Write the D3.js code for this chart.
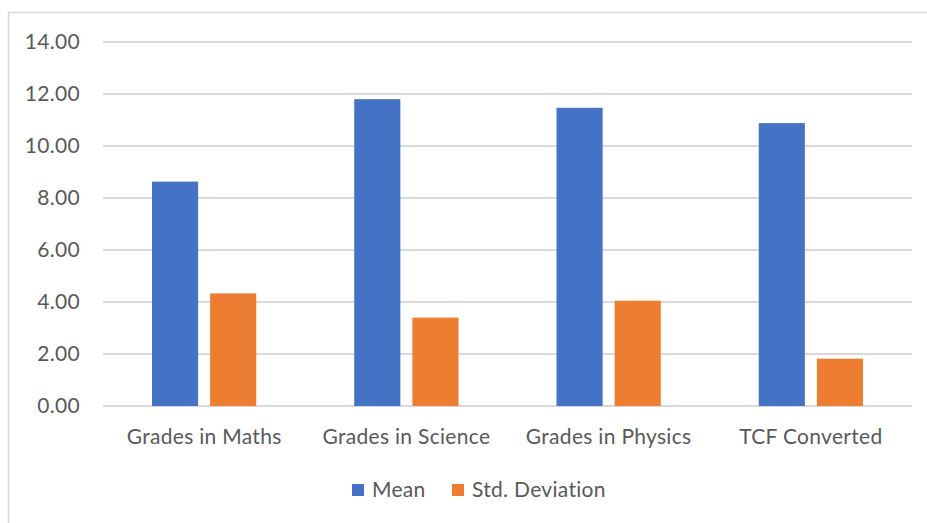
<!DOCTYPE html>
<html><head><meta charset="utf-8">
<script src="https://cdn.jsdelivr.net/npm/d3@7"></script>
<style>body{margin:0;background:#fff;} svg{display:block;}</style>
</head><body>
<svg id="c" width="927" height="523"></svg>
<script>
const categories = ["Grades in Maths","Grades in Science","Grades in Physics","TCF Converted"];
const seriesNames = ["Mean","Std. Deviation"];
const meanValues = [8.63, 11.80, 11.47, 10.88];
const stdValues = [4.33, 3.40, 4.05, 1.82];
const yTicks = [0,2,4,6,8,10,12,14];
const colors = ["#4472C4","#ED7D31"];

(function(){
const svg = d3.select("#c");
const font = "Lato, 'Open Sans', sans-serif";
const fs = 21;
const ls = "0.3px";
const txt = "#595959";
const grid = "#d9d9d9";

// chart border
svg.append("path").attr("d","M8.5,530 L8.5,12.5 L940,12.5").attr("fill","none").attr("stroke",grid).attr("stroke-width",1.5);

const pLeft = 103, pRight = 912, pTop = 42, pBottom = 406;
const y = d3.scaleLinear().domain([0,14]).range([pBottom, pTop]);
const x0 = d3.scaleBand().domain(categories).range([pLeft, pRight]).padding(0);
const inner = 49;
const x1 = d3.scaleBand().domain(seriesNames).range([inner, x0.bandwidth()-inner]).paddingInner(12/58).paddingOuter(0);

// gridlines
svg.append("g").selectAll("line").data(yTicks).join("line")
  .attr("x1", pLeft).attr("x2", pRight)
  .attr("y1", d=>y(d)).attr("y2", d=>y(d))
  .attr("stroke", grid).attr("stroke-width", 2);

// y axis labels
const yAxis = d3.axisLeft(y).tickValues(yTicks).tickFormat(d3.format(".2f")).tickSize(0).tickPadding(0);
const yg = svg.append("g").attr("transform","translate(80,0)").call(yAxis);
yg.select(".domain").remove();
yg.selectAll("text").attr("font-family",font).attr("font-size",fs).attr("letter-spacing",ls).attr("fill",txt);

// bars
const data = categories.map((c,i)=>({cat:c, vals:[meanValues[i], stdValues[i]]}));
const groups = svg.append("g").selectAll("g").data(data).join("g")
  .attr("transform", d=>`translate(${x0(d.cat)},0)`);
groups.selectAll("rect").data(d=>d.vals.map((v,j)=>({s:seriesNames[j], v, j})))
  .join("rect")
  .attr("x", d=>x1(d.s)).attr("width", x1.bandwidth())
  .attr("y", d=>y(d.v)).attr("height", d=>y(0)-y(d.v))
  .attr("fill", d=>colors[d.j]);

// x axis labels
const xAxis = d3.axisBottom(x0).tickSize(0).tickPadding(0);
const xg = svg.append("g").attr("transform",`translate(0,${pBottom+31})`).call(xAxis);
xg.select(".domain").remove();
xg.selectAll("text").attr("font-family",font).attr("font-size",fs).attr("letter-spacing",ls).attr("fill",txt).attr("dy","0.35em");

// legend
const legend = svg.append("g");
const legendX = [352, 452];
seriesNames.forEach((s,i)=>{
  legend.append("rect").attr("x",legendX[i]).attr("y",484).attr("width",12).attr("height",12).attr("fill",colors[i]);
  legend.append("text").attr("x",legendX[i]+20).attr("y",490).attr("dy","0.35em")
    .attr("font-family",font).attr("font-size",fs).attr("letter-spacing",ls).attr("fill",txt).text(s);
});
})();
</script>
</body></html>
